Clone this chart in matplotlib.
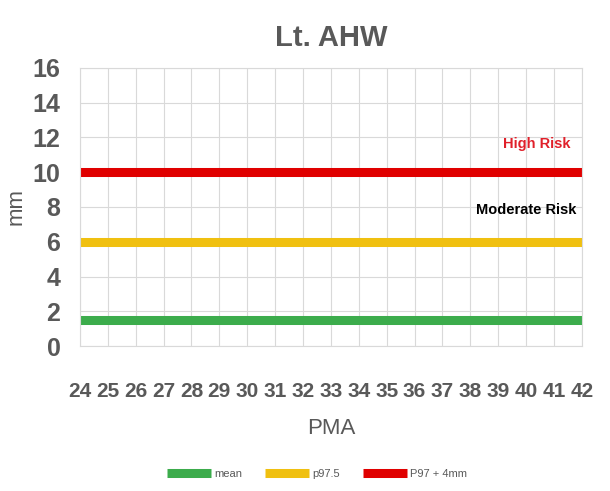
import matplotlib
matplotlib.use("Agg")
import matplotlib.pyplot as plt
from matplotlib.ticker import MultipleLocator

plt.rcParams['font.family'] = ['Liberation Sans', 'DejaVu Sans']

pma = list(range(24, 43))
mean = [1.5] * len(pma)
p975 = [6] * len(pma)
p97_4mm = [10] * len(pma)

gray = '#595959'

fig = plt.figure(figsize=(6.1, 4.91), dpi=100)
ax = fig.add_axes([0.131, 0.295, 0.823, 0.567])

ax.plot(pma, mean, c='#3cac4c', lw=6.5, solid_capstyle='butt', label='mean')
ax.plot(pma, p975, c='#f0c010', lw=6.5, solid_capstyle='butt', label='p97.5')
ax.plot(pma, p97_4mm, c='#e00000', lw=6.5, solid_capstyle='butt', label='P97 + 4mm')

ax.set_xlim(24, 42)
ax.set_ylim(0, 16)
ax.set_xticks(pma)
ax.yaxis.set_major_locator(MultipleLocator(2))
ax.grid(True, color='#d9d9d9', lw=0.8)
ax.set_axisbelow(True)
for s in ax.spines.values():
    s.set_color('#d9d9d9')
    s.set_linewidth(0.8)
ax.tick_params(length=0, labelcolor=gray)
ax.tick_params(axis='x', pad=26, labelsize=15)
ax.tick_params(axis='y', pad=14, labelsize=18)
for lab in ax.get_xticklabels() + ax.get_yticklabels():
    lab.set_fontweight('bold')

ax.text(41.6, 11.6, 'High Risk', color='#e0202a', fontsize=10.5, fontweight='bold', ha='right', va='center')
ax.text(41.8, 7.8, 'Moderate Risk', color='black', fontsize=10.5, fontweight='bold', ha='right', va='center')

ax.set_title('Lt. AHW', color=gray, fontsize=21, fontweight='bold', pad=16)
ax.set_xlabel('PMA', color=gray, fontsize=16, labelpad=12)
ax.set_ylabel('mm', color=gray, fontsize=16, labelpad=4)

fig.legend(loc='lower center', bbox_to_anchor=(0.52, 0.005), ncol=3, frameon=False,
           fontsize=8, labelcolor=gray, handlelength=4, handletextpad=0.3, columnspacing=2)

fig.savefig('out.png', dpi=100)
